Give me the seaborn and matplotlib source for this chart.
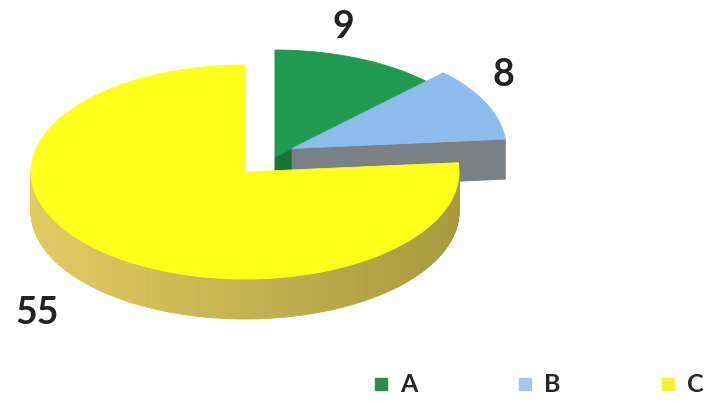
import numpy as np
import matplotlib
matplotlib.use("Agg")
import matplotlib.pyplot as plt
import matplotlib.colors as mcolors
from matplotlib.patches import Polygon
from matplotlib.lines import Line2D
import seaborn as sns

# ---- data ----
categories = ["A", "B", "C"]
values = [9, 8, 55]

# ---- style ----
top_colors = ["#1f9a50", "#8dbdec", "#ffff1c"]
wall_colors = ["#17723b", "#7b7f86", "#c9b850"]
wall_light = ["#1c8444", "#8a8e94", "#e3cb62"]
wall_dark = ["#145f31", "#6f737a", "#a69a3e"]
legend_colors = ["#2e8b57", "#a9c4e4", "#f2f23a"]

sns.set_theme(style="white")
plt.rcParams["font.family"] = ["Lato", "DejaVu Sans"]

W, H = 706, 401
fig = plt.figure(figsize=(W / 100, H / 100), dpi=100)
ax = fig.add_axes([0, 0, 1, 1])

# one data unit = pie radius, pie centre at the origin
R_PX = 214
CX, CY = 245, 172
ax.set_xlim(-CX / R_PX, (W - CX) / R_PX)
ax.set_ylim(-(H - CY) / R_PX, CY / R_PX)
ax.set_aspect("equal")
ax.axis("off")

TILT = 0.5          # vertical squash of the pie disc
DEPTH = 40 / R_PX   # thickness of the disc
explode = [(0.14, 0.07), (0.22, 0.11), (0.0, 0.0)]


def rim(t, off, dz=0.0):
    return off[0] + np.cos(t), off[1] + TILT * np.sin(t) - dz


fractions = np.array(values, dtype=float) / np.sum(values)
start = np.deg2rad(90)
for i, frac in enumerate(fractions):
    a0 = start
    a1 = start - 2 * np.pi * frac
    start = a1
    off = explode[i]

    # outer curved wall, only the half facing the viewer
    ts = np.linspace(a1, a0, 240)
    light = np.array(mcolors.to_rgb(wall_light[i]))
    dark = np.array(mcolors.to_rgb(wall_dark[i]))
    for t_lo, t_hi in zip(ts[:-1], ts[1:]):
        tm = 0.5 * (t_lo + t_hi)
        if np.sin(tm) >= 0:
            continue
        k = (1 - np.cos(tm)) / 2  # 1 at left, 0 at right
        col = dark + (light - dark) * k
        x0, y0 = rim(t_lo, off)
        x1, y1 = rim(t_hi, off)
        quad = [(x0, y0), (x1, y1), (x1, y1 - DEPTH), (x0, y0 - DEPTH)]
        ax.add_patch(Polygon(quad, closed=True, facecolor=col,
                             edgecolor=col, linewidth=0.6))

    # radial cut faces that face the viewer
    for ang, visible in ((a0, np.cos(a0) < -1e-9), (a1, np.cos(a1) > 1e-9)):
        if not visible:
            continue
        ex, ey = rim(ang, off)
        face = [(off[0], off[1]), (ex, ey), (ex, ey - DEPTH),
                (off[0], off[1] - DEPTH)]
        ax.add_patch(Polygon(face, closed=True, facecolor=wall_colors[i],
                             edgecolor=wall_colors[i], linewidth=0.6))

    # top face
    tt = np.linspace(a0, a1, 200)
    xs, ys = rim(tt, off)
    pts = [(off[0], off[1])] + list(zip(xs, ys))
    ax.add_patch(Polygon(pts, closed=True, facecolor=top_colors[i],
                         edgecolor=top_colors[i], linewidth=0.6))

# value labels
label_pos = [(0.458, 0.678), (1.206, 0.453), (-0.972, -0.659)]
for v, (lx, ly) in zip(values, label_pos):
    ax.text(lx, ly, str(v), ha="center", va="center", fontsize=27,
            fontweight="bold", color="#222222")

# legend
handles = [Line2D([0], [0], marker="s", linestyle="none", markersize=8.5,
                  markerfacecolor=c, markeredgecolor=c) for c in legend_colors]
fig.legend(handles, categories, loc="center left",
           bbox_to_anchor=(371 / W, 1 - 385 / H), bbox_transform=fig.transFigure,
           ncol=3, frameon=False, handlelength=0.8,
           handletextpad=0.36, columnspacing=3.9, borderpad=0, borderaxespad=0,
           prop={"size": 18, "weight": "bold"})

fig.savefig("out.png", dpi=100)
